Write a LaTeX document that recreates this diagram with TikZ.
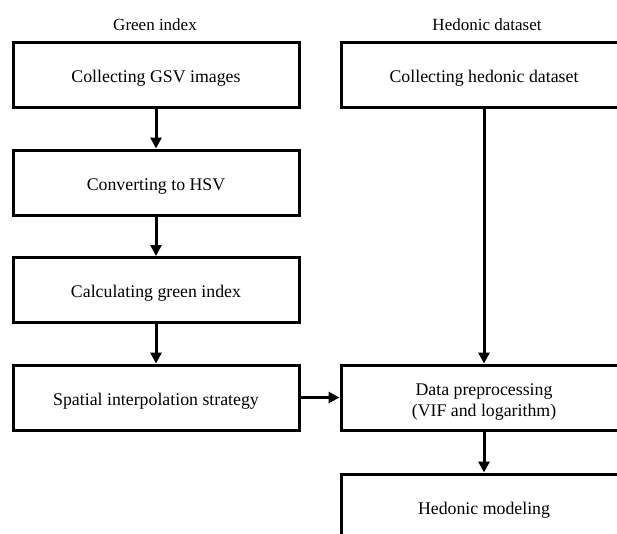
\documentclass[tikz,border=0pt]{standalone}
\usepackage{fontspec}
\setmainfont{Liberation Serif}
\usetikzlibrary{arrows.meta}
\begin{document}
\begin{tikzpicture}[x=1pt,y=-1pt,
  box/.style={draw,line width=3pt,minimum width=286pt,minimum height=65pt,inner sep=0pt,font=\fontsize{17.8}{21}\selectfont,align=center,text height=15.5pt,text depth=0pt},
  lbl/.style={font=\fontsize{17}{20}\selectfont},
  arr/.style={line width=3pt,-{Triangle[length=11pt,width=11pt]}}]
\clip (0,0) rectangle (617,533);
\node[lbl] (tg) at (155,25) {Green index};
\node[lbl] (th) at (487,25) {Hedonic dataset};
\node[box] (a1) at (156,74.5) {Collecting GSV images};
\node[box] (a2) at (156,182.5) {Converting to HSV};
\node[box] (a3) at (156,290) {Calculating green index};
\node[box] (a4) at (156,397.5) {Spatial interpolation strategy};
\node[box] (b1) at (484,74.5) {Collecting hedonic dataset};
\node[box,text height=37pt] (b2) at (484,397.5) {Data preprocessing\\(VIF and logarithm)};
\node[box] (b3) at (484,506.5) {Hedonic modeling};
\draw[arr] (a1.south) -- (a2.north);
\draw[arr] (a2.south) -- (a3.north);
\draw[arr] (a3.south) -- (a4.north);
\draw[arr] (a4.east) -- (b2.west);
\draw[arr] (b1.south) -- (b2.north);
\draw[arr] (b2.south) -- (b3.north);
\end{tikzpicture}
\end{document}
